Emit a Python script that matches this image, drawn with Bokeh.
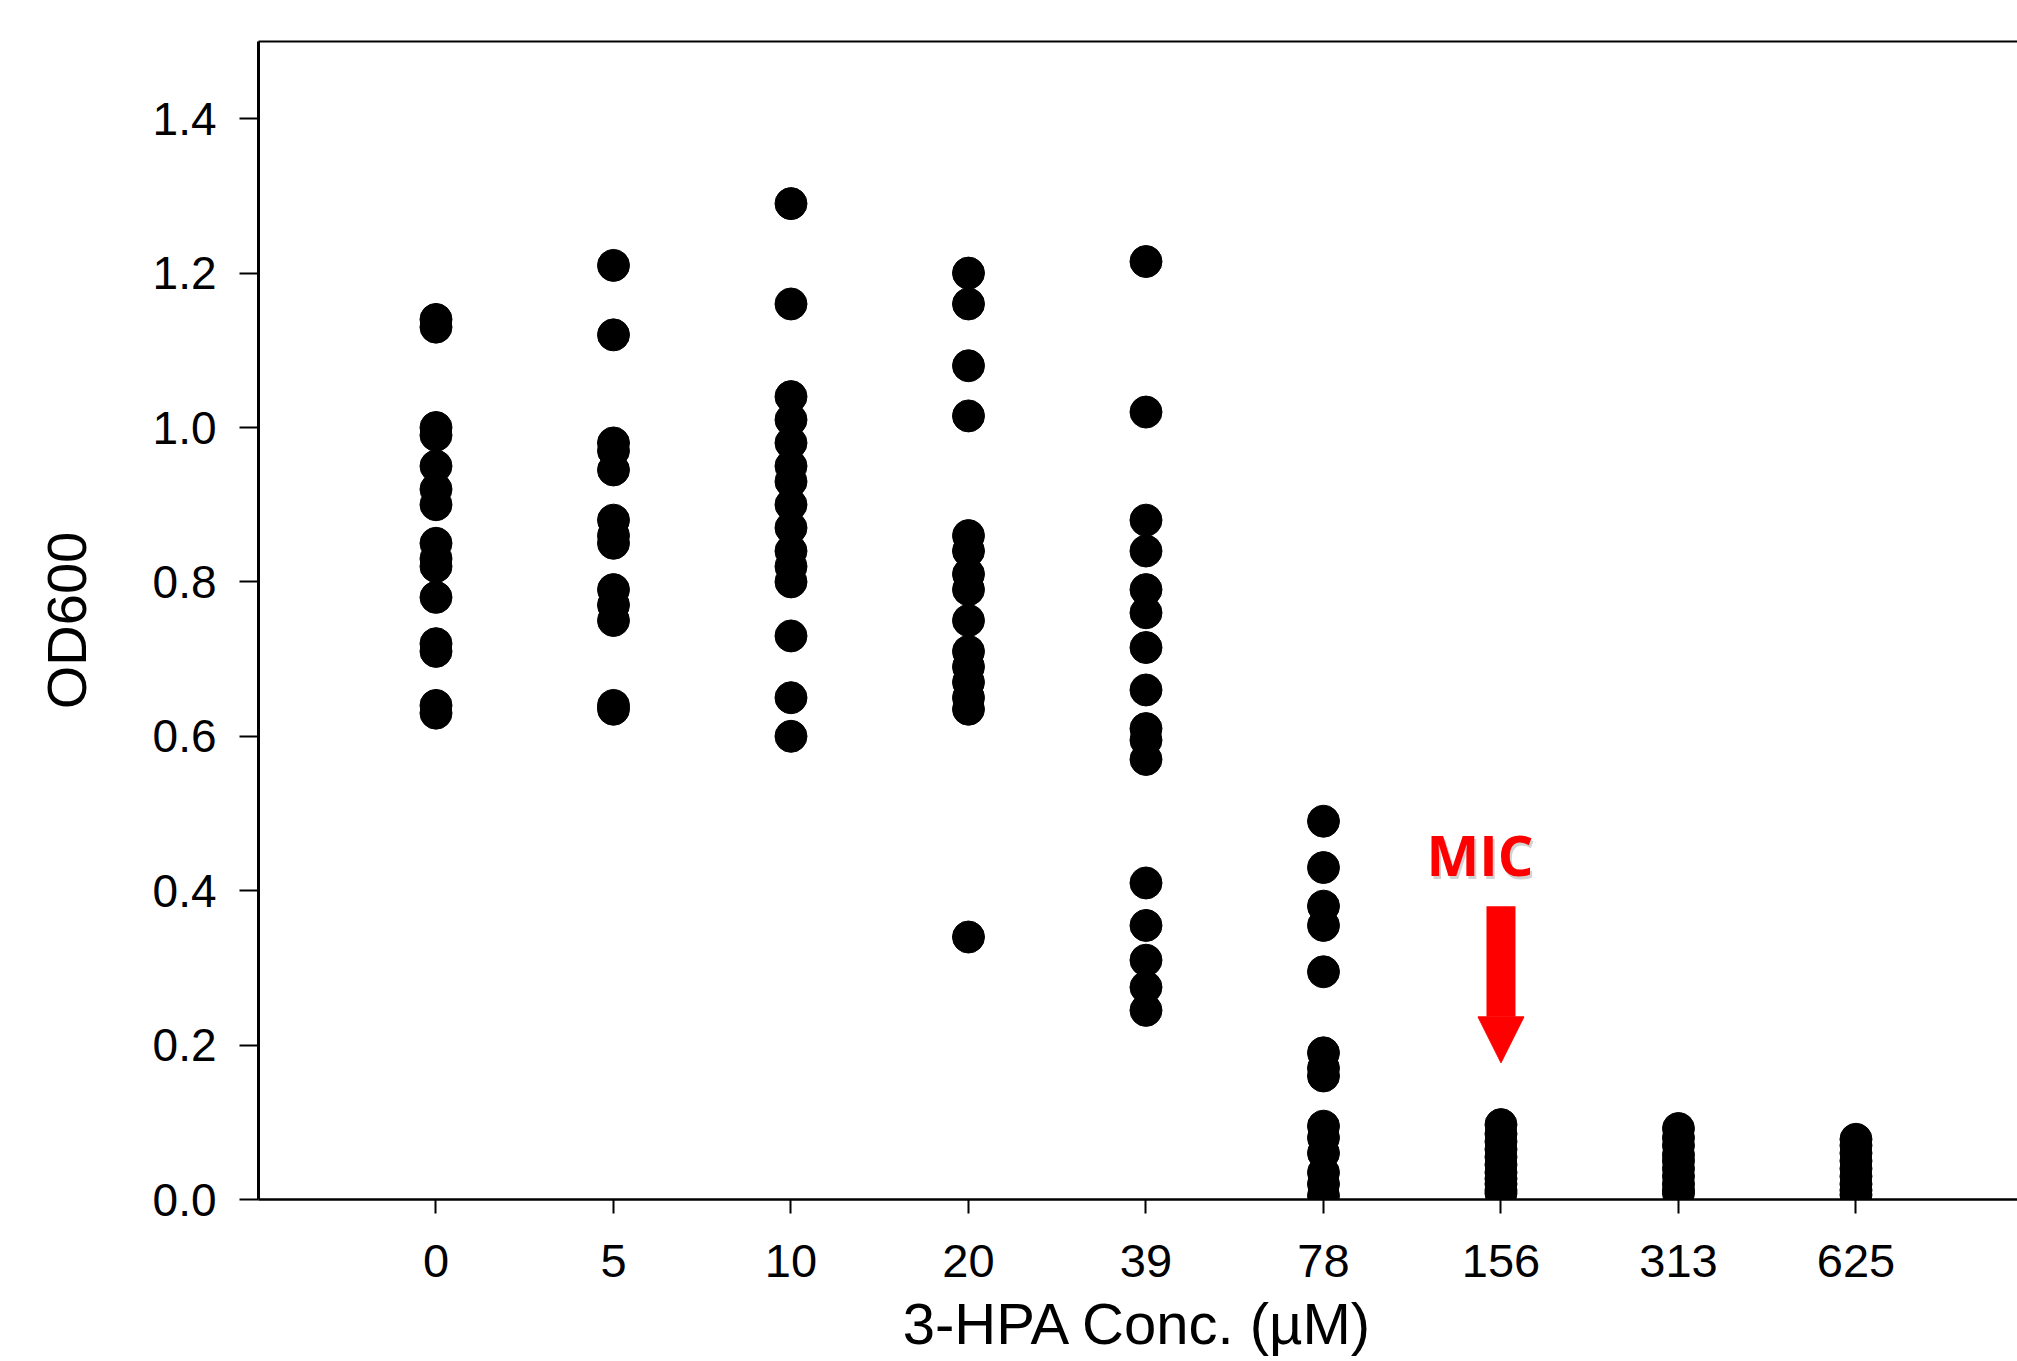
from bokeh.plotting import figure
from bokeh.models import (LinearAxis, FixedTicker, Range1d, Arrow, NormalHead,
                          ColumnDataSource, Label, PrintfTickFormatter)
from bokeh.embed import file_html
from bokeh.resources import INLINE

# ---- data ----
conc_labels = ["0", "5", "10", "20", "39", "78", "156", "313", "625"]

od_0 = [1.14, 1.13, 1.00, 0.99, 0.95, 0.92, 0.90, 0.85, 0.83, 0.82, 0.78, 0.72, 0.71, 0.64, 0.63]
od_5 = [1.21, 1.12, 0.98, 0.97, 0.945, 0.88, 0.86, 0.85, 0.79, 0.77, 0.75, 0.64, 0.635]
od_10 = [1.29, 1.16, 1.04, 1.01, 0.98, 0.95, 0.93, 0.90, 0.87, 0.84, 0.82, 0.80, 0.73, 0.65, 0.60]
od_20 = [1.20, 1.16, 1.08, 1.015, 0.86, 0.84, 0.81, 0.79, 0.75, 0.71, 0.69, 0.67, 0.65, 0.635, 0.34]
od_39 = [1.215, 1.02, 0.88, 0.84, 0.79, 0.76, 0.715, 0.66, 0.61, 0.595, 0.57, 0.41, 0.355, 0.31, 0.275, 0.245]
od_78 = [0.49, 0.43, 0.38, 0.355, 0.295, 0.19, 0.17, 0.16, 0.095, 0.08, 0.06, 0.035, 0.02, 0.005]
od_156 = [0.097, 0.085, 0.075, 0.065, 0.055, 0.045, 0.035, 0.027, 0.02, 0.012, 0.008]
od_313 = [0.092, 0.08, 0.07, 0.058, 0.05, 0.04, 0.03, 0.02, 0.012, 0.008]
od_625 = [0.078, 0.07, 0.06, 0.05, 0.04, 0.03, 0.02, 0.012, 0.006]

y_ticks = [0.0, 0.2, 0.4, 0.6, 0.8, 1.0, 1.2, 1.4]

x_title = "3-HPA Conc. (\u00b5M)"
y_title = "OD600"

mic_label = "MIC"
mic_conc = "156"
mic_arrow_top = 0.38
mic_arrow_tip = 0.177
mic_text_y = 0.412

series = [od_0, od_5, od_10, od_20, od_39, od_78, od_156, od_313, od_625]

xs, ys = [], []
for i, vals in enumerate(series):
    xs += [i] * len(vals)
    ys += vals
src = ColumnDataSource(data=dict(x=xs, y=ys))

x_start, x_end = -1, 8.91
p = figure(width=2017, height=1361, output_backend="svg", toolbar_location=None,
           x_range=Range1d(x_start, x_end), y_range=Range1d(0, 1.5),
           min_border_left=258, min_border_right=0, min_border_top=41, min_border_bottom=162,
           x_axis_label=x_title, y_axis_label=y_title)
p.outline_line_color = None
p.grid.visible = False
p.background_fill_color = "white"

# axes styling
for ax in (p.xaxis[0], p.yaxis[0]):
    ax.axis_line_color = "black"
    ax.major_tick_line_color = "black"
    ax.major_tick_line_width = 2
    ax.major_tick_in = 0
    ax.minor_tick_line_color = None
    ax.major_label_text_color = "black"
    ax.major_label_text_font = "Liberation Sans"
    ax.axis_label_text_font = "Liberation Sans"
    ax.axis_label_text_font_style = "normal"
    ax.axis_label_text_color = "black"

xa = p.xaxis[0]
xa.ticker = FixedTicker(ticks=list(range(len(conc_labels))))
xa.major_label_overrides = {i: lab for i, lab in enumerate(conc_labels)}
xa.axis_line_width = 2.5
xa.major_tick_out = 14
xa.major_label_standoff = 31
xa.major_label_text_font_size = "47px"
xa.axis_label_text_font_size = "58px"
xa.axis_label_standoff = 11

ya = p.yaxis[0]
ya.ticker = FixedTicker(ticks=y_ticks)
ya.formatter = PrintfTickFormatter(format="%.1f")
ya.axis_line_width = 3
ya.major_tick_out = 19
ya.major_label_standoff = 23
ya.major_label_text_font_size = "46px"
ya.axis_label_text_font_size = "56px"
ya.axis_label_standoff = 52

top = LinearAxis(ticker=FixedTicker(ticks=[]), axis_line_width=2, axis_line_color="black",
                 major_tick_line_color=None, minor_tick_line_color=None,
                 major_label_text_font_size="0px", major_label_standoff=0)
p.add_layout(top, "above")

p.scatter(x="x", y="y", source=src, size=32, marker="circle",
          fill_color="black", line_color="black")

mic_x = conc_labels.index(mic_conc)

p.add_layout(Arrow(end=NormalHead(size=46, fill_color="#FF0000", line_color="#FF0000"),
                   x_start=mic_x, y_start=mic_arrow_top, x_end=mic_x, y_end=mic_arrow_tip,
                   line_color="#FF0000", line_width=29))

p.add_layout(Label(x=mic_x, y=mic_text_y, text=mic_label, x_offset=-19, y_offset=24,
                   text_align="center", text_baseline="alphabetic",
                   text_font="Open Sans", text_font_style="bold", text_font_size="56px",
                   text_color="#7f7f7f", text_alpha=0.35))
p.add_layout(Label(x=mic_x, y=mic_text_y, text=mic_label, x_offset=-21, y_offset=27,
                   text_align="center", text_baseline="alphabetic",
                   text_font="Open Sans", text_font_style="bold", text_font_size="56px",
                   text_color="#FF0000"))

open("out.html", "w").write(file_html(p, INLINE))
